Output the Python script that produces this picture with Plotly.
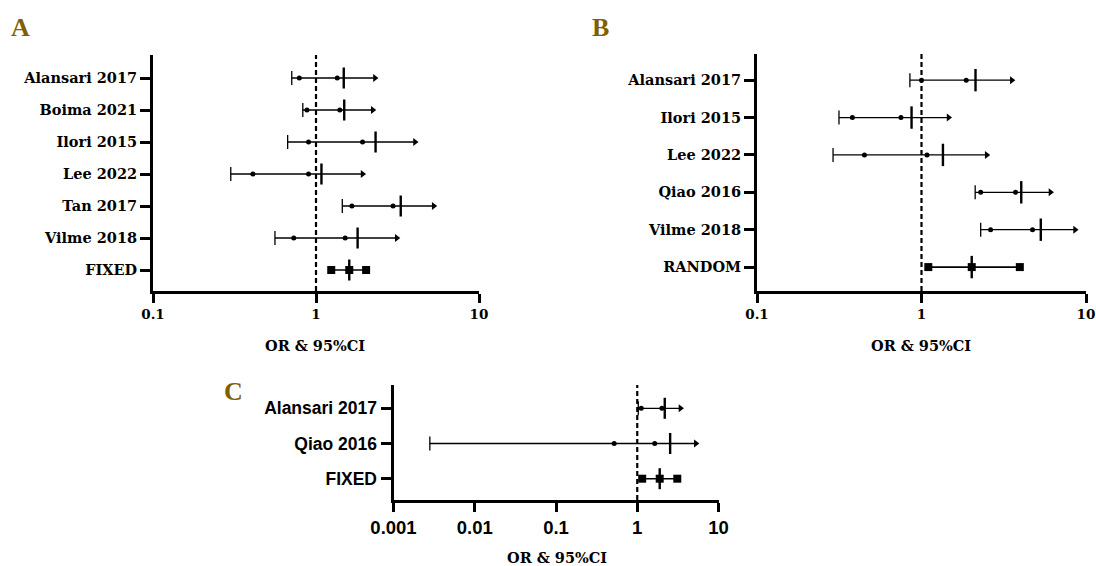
import plotly.graph_objects as go

# ---------------- data ----------------
# Panel A
A_studies = ["Alansari 2017", "Boima 2021", "Ilori 2015", "Lee 2022", "Tan 2017", "Vilme 2018"]
A_low = [0.71, 0.83, 0.67, 0.30, 1.45, 0.56]
A_low_dot = [0.79, 0.88, 0.90, 0.41, 1.66, 0.73]
A_or_dot = [1.35, 1.40, 1.93, 0.90, 2.97, 1.51]
A_or = [1.48, 1.49, 2.32, 1.08, 3.31, 1.80]
A_high = [2.30, 2.23, 4.05, 1.93, 5.27, 3.13]
A_pool_label = "FIXED"
A_pool = [1.24, 1.60, 2.03]  # low, OR, high

# Panel B
B_studies = ["Alansari 2017", "Ilori 2015", "Lee 2022", "Qiao 2016", "Vilme 2018"]
B_low = [0.85, 0.315, 0.29, 2.12, 2.29]
B_low_dot = [1.00, 0.38, 0.45, 2.29, 2.63]
B_or_dot = [1.87, 0.75, 1.08, 3.73, 4.73]
B_or = [2.13, 0.87, 1.35, 4.04, 5.31]
B_high = [3.54, 1.46, 2.49, 6.08, 8.58]
B_pool_label = "RANDOM"
B_pool = [1.10, 2.02, 3.96]

# Panel C
C_studies = ["Alansari 2017", "Qiao 2016"]
C_low = [1.03, 0.0028]
C_low_dot = [1.12, 0.52]
C_or_dot = [2.01, 1.64]
C_or = [2.18, 2.54]
C_high = [3.40, 5.26]
C_pool_label = "FIXED"
C_pool = [1.15, 1.89, 3.11]

A_ticks = [0.1, 1, 10]
A_ticktext = ["0.1", "1", "10"]
C_ticks = [0.001, 0.01, 0.1, 1, 10]
C_ticktext = ["0.001", "0.01", "0.1", "1", "10"]

# ---------------- figure ----------------
FW, FH = 1096, 566


def px(x):
    return x / FW


def py(y):
    return 1 - y / FH


fig = go.Figure()
BLACK = "black"


def add_panel(xa, ya, studies, low, low_dot, or_dot, orv, high, pool, tick_h):
    xr, yr = xa, ya
    n = len(studies)
    for i in range(n):
        fig.add_trace(go.Scatter(x=[low[i], high[i]], y=[i, i], mode="lines",
                                 line=dict(color=BLACK, width=1.3), xaxis=xr, yaxis=yr,
                                 showlegend=False, hoverinfo="skip", cliponaxis=False))
    ys = list(range(n))
    # left caps
    fig.add_trace(go.Scatter(x=low, y=ys, mode="markers", xaxis=xr, yaxis=yr,
                             marker=dict(symbol="line-ns", size=10,
                                         line=dict(color=BLACK, width=1.3)),
                             showlegend=False, cliponaxis=False))
    # dots
    fig.add_trace(go.Scatter(x=low_dot + or_dot, y=ys + ys, mode="markers", xaxis=xr, yaxis=yr,
                             marker=dict(symbol="circle", size=5, color=BLACK),
                             showlegend=False, cliponaxis=False))
    # OR tick
    fig.add_trace(go.Scatter(x=orv, y=ys, mode="markers", xaxis=xr, yaxis=yr,
                             marker=dict(symbol="line-ns", size=tick_h,
                                         line=dict(color=BLACK, width=2.4)),
                             showlegend=False, cliponaxis=False))
    # right end
    fig.add_trace(go.Scatter(x=high, y=ys, mode="markers", xaxis=xr, yaxis=yr,
                             marker=dict(symbol="triangle-right", size=7, color=BLACK),
                             showlegend=False, cliponaxis=False))
    # pooled
    p = n
    fig.add_trace(go.Scatter(x=[pool[0], pool[2]], y=[p, p], mode="lines", xaxis=xr, yaxis=yr,
                             line=dict(color=BLACK, width=1.6),
                             showlegend=False, cliponaxis=False))
    fig.add_trace(go.Scatter(x=pool, y=[p, p, p], mode="markers", xaxis=xr, yaxis=yr,
                             marker=dict(symbol="square", size=8, color=BLACK),
                             showlegend=False, cliponaxis=False))
    fig.add_trace(go.Scatter(x=[pool[1]], y=[p], mode="markers", xaxis=xr, yaxis=yr,
                             marker=dict(symbol="line-ns", size=tick_h,
                                         line=dict(color=BLACK, width=2.4)),
                             showlegend=False, cliponaxis=False))


add_panel("x", "y", A_studies, A_low, A_low_dot, A_or_dot, A_or, A_high, A_pool, 15)
add_panel("x2", "y2", B_studies, B_low, B_low_dot, B_or_dot, B_or, B_high, B_pool, 16)
add_panel("x3", "y3", C_studies, C_low, C_low_dot, C_or_dot, C_or, C_high, C_pool, 15)

SERIF = "DejaVu Serif"
SANS = "Liberation Sans"
LETTER = "Liberation Serif"


def xaxis_cfg(x0, x1, ticks, ticktext, rng, family, fsize, anchor):
    return dict(domain=[px(x0), px(x1)], type="log", range=rng, anchor=anchor,
                tickvals=ticks, ticktext=["<b>%s</b>" % t for t in ticktext],
                tickfont=dict(family=family, size=fsize, color=BLACK),
                showline=True, linewidth=3, linecolor=BLACK, ticks="outside",
                ticklen=9, tickwidth=3, tickcolor=BLACK, showgrid=False, zeroline=False,
                fixedrange=True, automargin=False, ticklabeloverflow="allow")


def yaxis_cfg(ytop, ybot, labels, rng, family, fsize, anchor, ticklen):
    return dict(domain=[py(ybot), py(ytop)], range=rng, anchor=anchor,
                tickvals=list(range(len(labels))), ticktext=["<b>%s</b>" % t for t in labels],
                tickfont=dict(family=family, size=fsize, color=BLACK),
                showline=True, linewidth=3, linecolor=BLACK, ticks="outside",
                ticklen=ticklen, tickwidth=3, tickcolor=BLACK, showgrid=False, zeroline=False,
                fixedrange=True, automargin=False)


A_labels = A_studies + [A_pool_label]
B_labels = B_studies + [B_pool_label]
C_labels = C_studies + [C_pool_label]

fig.update_layout(
    width=FW, height=FH, margin=dict(l=0, r=0, t=0, b=0, autoexpand=False),
    paper_bgcolor="white", plot_bgcolor="white",
    xaxis=xaxis_cfg(153, 479, A_ticks, A_ticktext, [-1, 1], SERIF, 13.5, "y"),
    yaxis=yaxis_cfg(55, 291, A_labels, [6.656, -0.719], SERIF, 14.5, "x", 10),
    xaxis2=xaxis_cfg(757, 1086, A_ticks, A_ticktext, [-1, 1], SERIF, 13.5, "y2"),
    yaxis2=yaxis_cfg(54, 291, B_labels, [5.64, -0.70], SERIF, 14.5, "x2", 10),
    xaxis3=xaxis_cfg(393.5, 718.5, C_ticks, C_ticktext, [-3, 1], SANS, 18.5, "y3"),
    yaxis3=yaxis_cfg(385, 500, C_labels, [2.605, -0.662], SANS, 17.5, "x3", 10),
    showlegend=False,
    hovermode=False,
)

# reference line at OR = 1
for xr, yr in [("x", "y"), ("x2", "y2"), ("x3", "y3")]:
    fig.add_shape(type="line", x0=1, x1=1, y0=0, y1=1, xref=xr, yref=yr + " domain",
                  line=dict(color=BLACK, width=2.2, dash="5px,3px"))

GOLD = "#7f5f00"
annos = [
    dict(text="<b>A</b>", x=px(20), y=py(27), font=dict(family=LETTER, size=26, color=GOLD)),
    dict(text="<b>B</b>", x=px(600), y=py(27), font=dict(family=LETTER, size=26, color=GOLD)),
    dict(text="<b>C</b>", x=px(233), y=py(391), font=dict(family=LETTER, size=26, color=GOLD)),
    dict(text="<b>OR & 95%CI</b>", x=px(315), y=py(345), font=dict(family=SERIF, size=14.5, color=BLACK)),
    dict(text="<b>OR & 95%CI</b>", x=px(921), y=py(345), font=dict(family=SERIF, size=14.5, color=BLACK)),
    dict(text="<b>OR & 95%CI</b>", x=px(557), y=py(557), font=dict(family=SERIF, size=14.5, color=BLACK)),
]
for a in annos:
    fig.add_annotation(xref="paper", yref="paper", showarrow=False, xanchor="center",
                       yanchor="middle", **a)

# remove the default page margin so the 1096x566 figure fills the window exactly
fig.write_html("out.html", config={"displayModeBar": False},
               post_script="document.body.style.margin='0';document.body.style.overflow='hidden';")
